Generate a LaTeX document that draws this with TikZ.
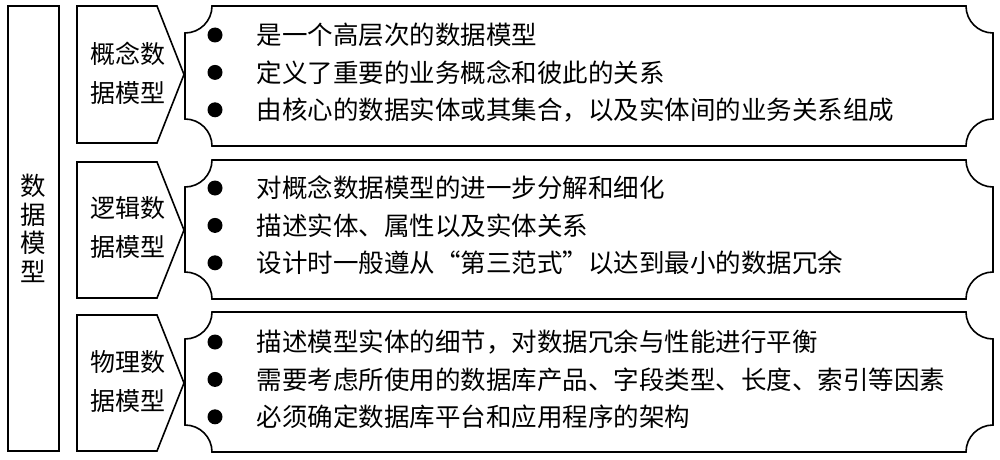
\documentclass[tikz,border=0pt]{standalone}
\usepackage{fontspec}
\newfontfamily\cjk{Noto Sans CJK SC}
\usetikzlibrary{positioning}

\begin{document}
\begin{tikzpicture}[
			x=1pt, y=1pt,
			every node/.style={font=\cjk\fontsize{25.5}{28.5}\selectfont, inner sep=0pt},
			outline/.style={draw, line width=1.6pt},
			head/.style={align=center, font=\cjk\fontsize{25}{39}\selectfont},
			dot/.style={circle, fill, minimum size=15pt},
			item/.style={anchor=west},
			node distance=22pt and 34pt]
		\useasboundingbox (0,0) rectangle (1000,459);

		\node[outline, minimum width=51pt, minimum height=445pt, align=center] (model) at (33.5,230.5) {数\\据\\模\\型};

		\foreach \t/\b in {453/316, 297/161, 144/8}
			\draw[outline] (77,\t) -- (157,\t) -- (184,{(\t+\b)/2}) -- (157,\b) -- (77,\b) -- cycle;
		\foreach \t/\b in {453/313, 299/160, 147/7}
			\draw[outline] (212,\t) -- (966,\t) arc(180:270:27) -- (993,{\b+27}) arc(90:180:27)
				-- (212,\b) arc(0:90:27) -- (185,{\t-27}) arc(270:360:27) -- cycle;

		\node[head] (concept)  at (127.5,385.5) {概念数\\据模型};
		\node[head] (logic)    at (127.5,231.5) {逻辑数\\据模型};
		\node[head] (physical) at (127.5,77.5)  {物理数\\据模型};

		\node[dot]              (c1) at (215,424) {};
		\node[dot, below=of c1] (c2) {};
		\node[dot, below=of c2] (c3) {};
		\node[item, right=of c1] (ct1) {是一个高层次的数据模型};
		\node[item, right=of c2] (ct2) {定义了重要的业务概念和彼此的关系};
		\node[item, right=of c3] (ct3) {由核心的数据实体或其集合，以及实体间的业务关系组成};

		\node[dot]              (l1) at (215,271) {};
		\node[dot, below=of l1] (l2) {};
		\node[dot, below=of l2] (l3) {};
		\node[item, right=of l1] (lt1) {对概念数据模型的进一步分解和细化};
		\node[item, right=of l2] (lt2) {描述实体、属性以及实体关系};
		\node[item, right=of l3] (lt3) {设计时一般遵从“第三范式”以达到最小的数据冗余};

		\node[dot]              (p1) at (215,117) {};
		\node[dot, below=of p1] (p2) {};
		\node[dot, below=of p2] (p3) {};
		\node[item, right=of p1] (pt1) {描述模型实体的细节，对数据冗余与性能进行平衡};
		\node[item, right=of p2] (pt2) {需要考虑所使用的数据库产品、字段类型、长度、索引等因素};
		\node[item, right=of p3] (pt3) {必须确定数据库平台和应用程序的架构};
	\end{tikzpicture}
\end{document}
